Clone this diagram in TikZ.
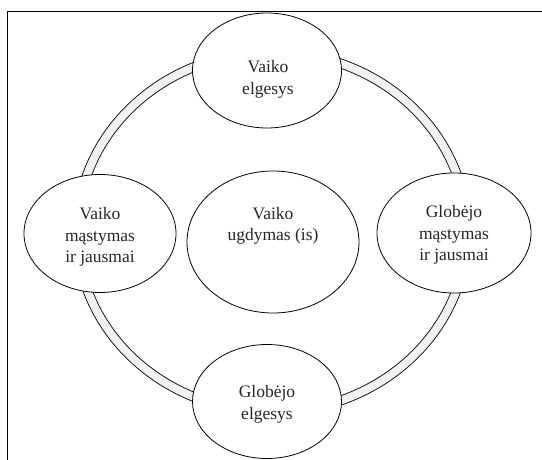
\documentclass[tikz,border=0pt]{standalone}
\usepackage{fontspec}
\setmainfont{Liberation Serif}
\usetikzlibrary{shapes.geometric}
\definecolor{ringgray}{HTML}{F0F1F3}
\begin{document}
\begin{tikzpicture}[x=1pt,y=-1pt,
  bubble/.style={draw=black, line width=0.8pt, fill=white, ellipse, inner sep=0pt},
  lbl/.style={align=center, inner sep=0pt, text=black!85, font=\fontsize{17.5}{21.5}\selectfont}]
\useasboundingbox (0,0) rectangle (542,460);
% frame (top and left edges)
\draw[line width=0.9pt] (7,460) -- (7,11) -- (542,11);
% ring
\fill[ringgray, even odd rule] (272,232) ellipse [x radius=199.5, y radius=184.5]
      (272,232) ellipse [x radius=190.5, y radius=175.5];
\draw[line width=0.7pt] (272,232) ellipse [x radius=199.5, y radius=184.5];
\draw[line width=0.7pt] (272,232) ellipse [x radius=190.5, y radius=175.5];
% bubbles
\node[bubble, minimum width=149pt, minimum height=115pt] (top) at (267,70.5) {};
\node[bubble, minimum width=149pt, minimum height=114pt] (bot) at (267,401.5) {};
\node[bubble, minimum width=152pt, minimum height=118pt] (lft) at (100,233.5) {};
\node[bubble, minimum width=154pt, minimum height=120pt] (rgt) at (454,233) {};
\node[bubble, minimum width=172pt, minimum height=142pt] (mid) at (273,242) {};
% labels
\node[lbl] (toptext) at (268,79.5) {Vaiko\\elgesys};
\node[lbl] (bottext) at (267,404.5) {Globėjo\\elgesys};
\node[lbl] (lfttext) at (100,237) {Vaiko\\mąstymas\\ir jausmai};
\node[lbl] (rgttext) at (454,235) {Globėjo\\mąstymas\\ir jausmai};
\node[lbl] (midtext) at (273,226) {Vaiko\\ugdymas (is)};
\end{tikzpicture}
\end{document}
